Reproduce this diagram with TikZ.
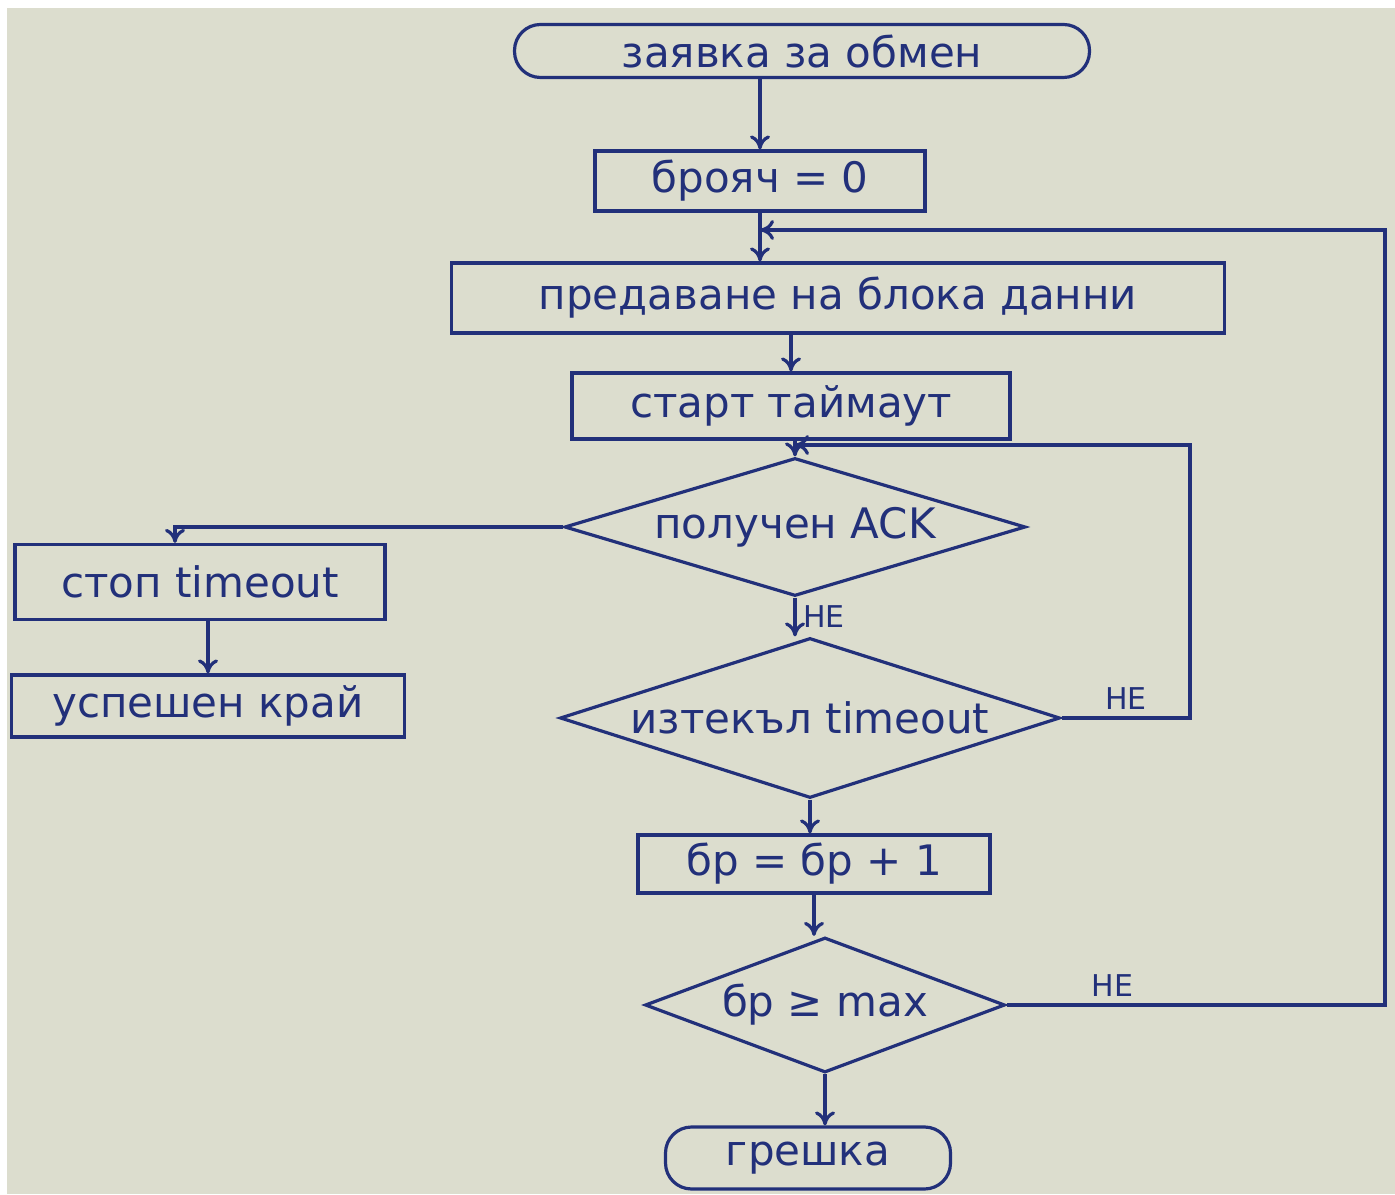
\documentclass[tikz,border=0pt]{standalone}
\usepackage{fontspec}
\setmainfont{DejaVu Sans}
\usetikzlibrary{shapes.geometric,arrows.meta}

\begin{document}
\begin{tikzpicture}[x=0.5pt,y=0.5pt,font=\fontsize{21}{24}\selectfont,line width=1.6pt,
  >={To[length=7pt,width=10pt]},
  box/.style={draw=ink,rectangle,inner sep=0pt,text=ink},
  term/.style={draw=ink,rectangle,rounded corners=13pt,inner sep=0pt,text=ink},
  cond/.style={draw=ink,diamond,aspect=3.2,inner sep=0pt,text=ink},
  flow/.style={draw=ink,->},
  lbl/.style={text=ink,font=\fontsize{15}{18}\selectfont}]
\definecolor{ink}{HTML}{22307A}\definecolor{paper}{HTML}{DCDDCE}
\useasboundingbox (0,0) rectangle (1395,1194);
\fill[white] (0,0) rectangle (1395,1194);
\fill[paper] (7,0) rectangle (1395,1186);
\node[term,minimum width=287.5pt,minimum height=26.5pt] (start) at (802,1143) {заявка за обмен};
\node[box,minimum width=165pt,minimum height=30pt] (count) at (760,1013) {брояч = 0};
\node[box,minimum width=386.5pt,minimum height=35pt] (send) at (838,896) {предаване на блока данни};
\node[box,minimum width=219pt,minimum height=33pt] (timer) at (791,788) {старт таймаут};
\node[cond,minimum width=230.5pt,minimum height=69pt] (ack) at (795,667) {получен ACK};
\node[cond,minimum width=250pt,minimum height=80pt] (tmo) at (810,476) {изтекъл timeout};
\node[box,minimum width=176pt,minimum height=29pt] (inc) at (814,330) {бр = бр + 1};
\node[cond,minimum width=180pt,minimum height=67.5pt] (max) at (825,189) {бр ≥ max};
\node[term,minimum width=142.5pt,minimum height=31pt] (err) at (808,36) {грешка};
\node[box,minimum width=185pt,minimum height=37.5pt] (stop) at (200,612) {стоп timeout};
\node[box,minimum width=196.5pt,minimum height=31pt] (ok) at (208,488) {успешен край};
\coordinate (joinA) at (count.south |- 0,964);
\coordinate (cornerA) at (1385,964);
\coordinate (joinB) at (ack.north |- 0,749);
\coordinate (cornerB) at (1190,749);
\coordinate (dropC) at (175,672);
\draw[flow] (start.south -| count.north) -- (count.north);
\draw[flow] (count.south) -- (count.south |- send.north);
\draw[flow] (send.south -| timer.north) -- (timer.north);
\draw[flow] (timer.south -| ack.north) -- (ack.north);
\draw[flow] (ack.west) -| (dropC |- stop.north);
\draw[flow] (stop.south -| ok.north) -- (ok.north);
\draw[flow] (ack.south) -- (ack.south |- tmo.north) node[lbl,midway,right] (noA) {НЕ};
\draw[flow] (tmo.east) -| node[lbl,pos=0.25,above] (noB) {НЕ} (cornerB) -- (joinB);
\draw[flow] (tmo.south) -- (tmo.south |- inc.north);
\draw[flow] (inc.south) -- (inc.south |- max.north);
\draw[flow] (max.east) -| node[lbl,pos=0.14,above] (noC) {НЕ} (cornerA) -- (joinA);
\draw[flow] (max.south) -- (max.south |- err.north);
\end{tikzpicture}
\end{document}
